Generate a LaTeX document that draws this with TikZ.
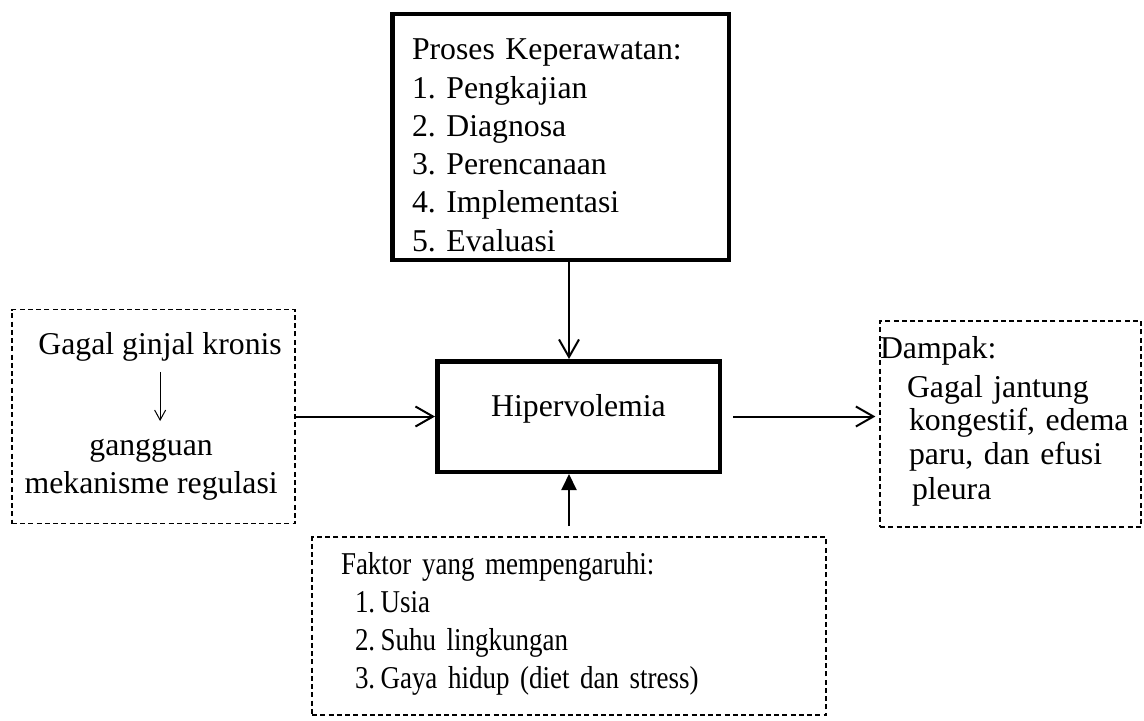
\documentclass[tikz,border=0pt]{standalone}
\usepackage{fontspec}
\setmainfont{Liberation Serif}
\newfontfamily\sempit[FakeStretch=0.85]{Liberation Serif}
\usetikzlibrary{arrows.meta, positioning}
\frenchspacing

\begin{document}
\begin{tikzpicture}[x=0.4pt, y=-0.4pt, on grid, inner sep=0pt,
    every node/.style={font=\fontsize{12.7pt}{15.3pt}\selectfont},
    kotak/.style={draw, line width=1.8pt},
    putus/.style={draw, line width=0.7pt, dash pattern=on 2pt off 1.3pt},
    panah/.style={-{Straight Barb[length=7pt,width=8pt]}, line width=0.8pt}]
      \useasboundingbox (0,0) rectangle (1144,720);
      \node[kotak, minimum width=113pt, minimum height=44.2pt,
            text height=8pt, text depth=8pt]                     (hiper) at (578.5,416.5) {Hipervolemia};
      \node[kotak, align=left, text width=118.8pt, inner xsep=7.9pt,
            text height=18.3pt, text depth=79.9pt]              (proses) [above left=111.8pt and 7.2pt of hiper]
            {Proses Keperawatan:\\ 1. Pengkajian\\ 2. Diagnosa\\ 3. Perencanaan\\ 4. Implementasi\\ 5. Evaluasi};
      \node[putus, minimum width=113.2pt, minimum height=85.6pt] (ggk) [left=170pt of hiper] {};
      \node[anchor=base]                (ginjal) at ([shift={(59.6pt,-18.4pt)}]ggk.north west) {Gagal ginjal kronis};
      \node[anchor=base, align=center]  (akibat) at ([shift={(56pt,-74pt)}]ggk.north west) {gangguan\\ mekanisme regulasi};
      \node[putus, align=left, text width=104.4pt, text height=14.8pt, text depth=67.6pt,
            font=\fontsize{12.7pt}{13.4pt}\selectfont]          (dampak) [below right=3pt and 172.8pt of hiper]
            {Dampak:\\[2.2pt] \hspace*{10.8pt}Gagal jantung\\ \hspace*{11.6pt}kongestif, edema\\
             \hspace*{11.6pt}paru, dan efusi\\[0.6pt] \hspace*{12.8pt}pleura};
      \node[putus, align=left, text width=182.4pt, inner xsep=11.6pt, text height=14.8pt, text depth=56.4pt,
            font=\sempit\fontsize{12.7pt}{15.3pt}\selectfont]   (faktor) [below left=83.8pt and 3.8pt of hiper]
            {Faktor yang mempengaruhi:\\ \hspace*{5.6pt}1.\,Usia\\ \hspace*{5.6pt}2.\,Suhu lingkungan\\
             \hspace*{5.6pt}3.\,Gaya hidup (diet dan stress)};
      \draw[panah] (proses.south -| faktor.north) -- (hiper.north -| faktor.north);
      \draw[panah] (ggk.east) -- (ggk.east -| hiper.west);
      \draw[panah, shorten <=4.4pt, shorten >=1.5pt] (hiper.east) -- (hiper.east -| dampak.west);
      \draw[-{Triangle[length=6.4pt,width=6pt]}, line width=0.8pt, shorten <=4pt]
        (faktor.north) -- (faktor.north |- hiper.south);
      \draw[-{Straight Barb[length=4pt,width=4.4pt]}, line width=0.4pt, shorten <=4pt, shorten >=7pt]
        (ginjal.south) -- (ginjal.south |- akibat.north);
    \end{tikzpicture}
\end{document}
